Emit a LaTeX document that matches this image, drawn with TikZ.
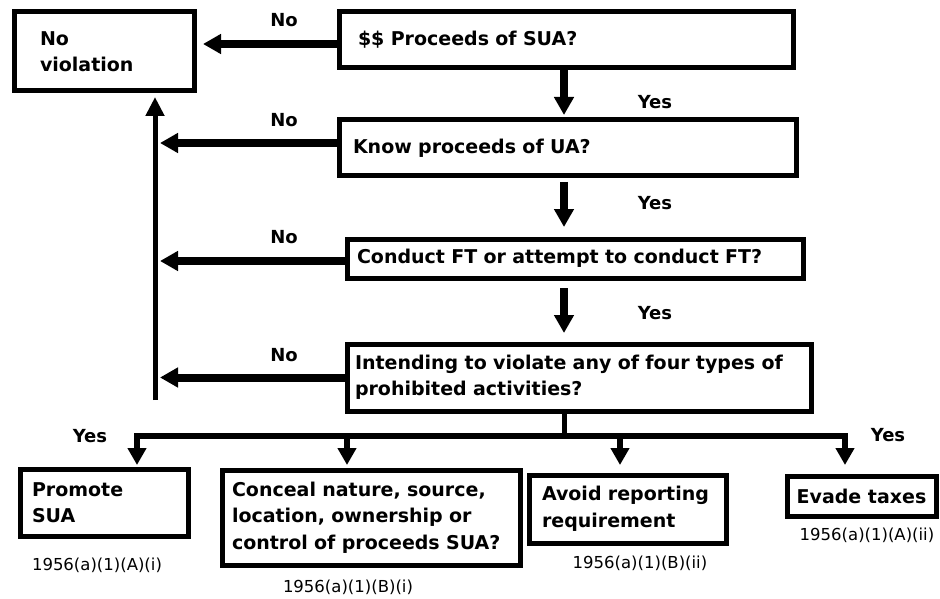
\documentclass[tikz,border=0pt]{standalone}
\usepackage{fontspec}
\setmainfont{DejaVu Sans}
\usepackage{tikz}
\usetikzlibrary{arrows.meta}
\usetikzlibrary{positioning}

\newcommand{\boxfont}{\fontsize{19}{26.5}\selectfont\bfseries}
\newcommand{\lblfont}{\fontsize{18}{22}\selectfont\bfseries}
\newcommand{\codefont}{\fontsize{16.5}{20}\selectfont}

\begin{document}
\begin{tikzpicture}[x=1pt,y=-1pt,
  qbox/.style={draw, line width=5pt, outer sep=0pt, anchor=north west, align=left, inner ysep=0pt, font=\boxfont},
  lbl/.style={font=\lblfont, inner sep=0pt},
  code/.style={font=\codefont, inner sep=0pt},
  flow/.style={line width=8pt, -{Triangle[length=18pt,width=19pt]}},
  branch/.style={line width=6pt, -{Triangle[length=17pt,width=18pt]}},
  trunk/.style={line width=5pt}]
\useasboundingbox (0,0) rectangle (940,599);

% question boxes
\node[qbox, minimum width=180pt, minimum height=79pt, text width=128pt, inner xsep=26pt] (noviol) at (14,12) {No\\violation};
\node[qbox, minimum width=454pt, minimum height=56pt, text width=416pt, inner xsep=19pt] (q1) at (339,12) {\$\$ Proceeds of SUA?};
\node[qbox, minimum width=457pt, minimum height=56pt, text width=429pt, inner xsep=14pt] (q2) at (339,120) {Know proceeds of UA?};
\node[qbox, minimum width=456pt, minimum height=39pt, text width=436pt, inner xsep=10pt] (q3) at (347,239) {Conduct FT or attempt to conduct FT?};
\node[qbox, minimum width=464pt, minimum height=67pt, text width=448pt, inner xsep=8pt] (q4) at (347,344) {Intending to violate any of four types of\\prohibited activities?};

% outcome boxes
\node[qbox, minimum width=168pt, minimum height=67pt, text width=144pt, inner xsep=12pt] (promote) at (20,469) {Promote\\SUA};
\node[qbox, minimum width=298pt, minimum height=95pt, text width=278pt, inner xsep=10pt] (conceal) at (222,470) {Conceal nature, source,\\location, ownership or\\control of proceeds SUA?};
\node[qbox, minimum width=197pt, minimum height=68pt, text width=171pt, inner xsep=13pt] (avoid) at (529,475) {Avoid reporting\\requirement};
\node[qbox, minimum width=149pt, minimum height=40pt, align=center] (evade) at (787,476) {Evade taxes};

% yes / no labels
\node[lbl] (no1) at (284,20) {No};
\node[lbl] (yes1) at (655,102) {Yes};
\node[lbl] (no2) at (284,120) {No};
\node[lbl] (yes2) at (655,203) {Yes};
\node[lbl] (no3) at (284,237) {No};
\node[lbl] (yes3) at (655,313) {Yes};
\node[lbl] (no4) at (284,355) {No};
\node[lbl] (yesL) at (90,436) {Yes};
\node[lbl] (yesR) at (888,435) {Yes};

% statute references
\node[code] (cAi) at (97,565) {1956(a)(1)(A)(i)};
\node[code] (cBi) at (348,587) {1956(a)(1)(B)(i)};
\node[code] (cBii) at (640,563) {1956(a)(1)(B)(ii)};
\node[code] (cAii) at (867,535) {1956(a)(1)(A)(ii)};

% no branch back to no violation
\coordinate (trunkbot) at (155,400);
\draw[trunk, -{Triangle[length=19pt,width=18pt]}, shorten >=6pt] (trunkbot) -- (trunkbot |- noviol.south);
\draw[flow, shorten >=9pt] ([yshift=-4pt]q1.west) coordinate (s1) -- (s1 -| noviol.east);
\draw[flow, shorten >=5pt] ([yshift=5pt]q2.west) coordinate (s2) -- (s2 -| trunkbot);
\draw[flow, shorten >=5pt] ([yshift=-2.5pt]q3.west) coordinate (s3) -- (s3 -| trunkbot);
\draw[flow, shorten >=5pt] (q4.west) coordinate (s4) -- (s4 -| trunkbot);

% yes branch down
\coordinate (spine) at (564,0);
\draw[flow, shorten <=2pt, shorten >=5pt] (spine |- q1.south) -- (spine |- q2.north);
\draw[flow, shorten <=6pt, shorten >=12pt] (spine |- q2.south) -- (spine |- q3.north);
\draw[flow, shorten <=10pt, shorten >=11pt] (spine |- q3.south) -- (spine |- q4.north);

% fork to the four activities
\coordinate (fork) at (564,436);
\draw[trunk] (fork |- q4.south) -- (fork);
\coordinate (b1) at (137,436);
\coordinate (b2) at (347,436);
\coordinate (b3) at (620,436);
\coordinate (b4) at (845,436);
\draw[trunk, line width=6pt, line cap=rect] (b1) -- (b4);
\draw[branch, shorten >=4pt] (b1) -- (b1 |- promote.north);
\draw[branch, shorten >=5pt] (b2) -- (b2 |- conceal.north);
\draw[branch, shorten >=10pt] (b3) -- (b3 |- avoid.north);
\draw[branch, shorten >=11pt] (b4) -- (b4 |- evade.north);
\end{tikzpicture}
\end{document}
